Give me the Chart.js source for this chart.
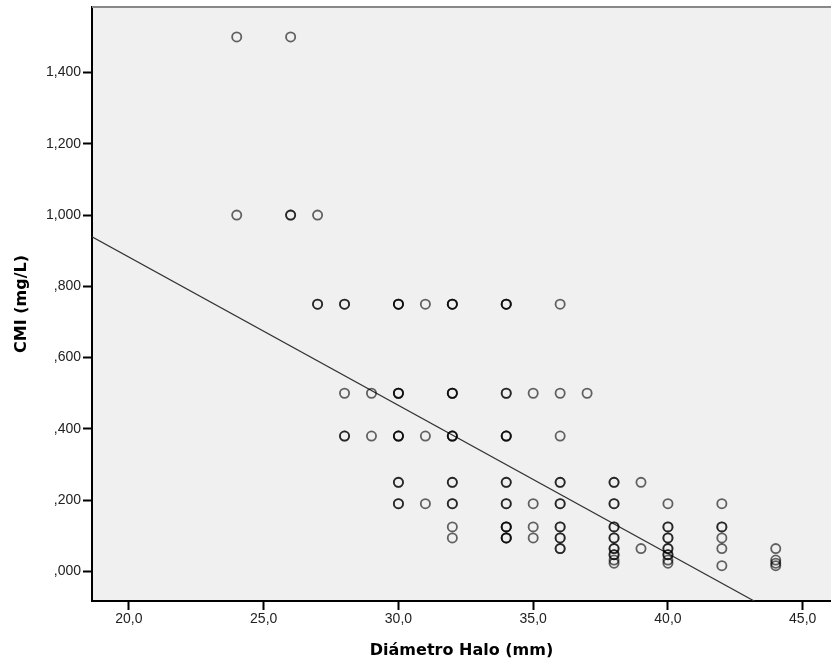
<!DOCTYPE html>
<html>
<head>
<meta charset="utf-8">
<script src="https://cdn.jsdelivr.net/npm/chart.js@4"></script>
<style>
  html, body { margin: 0; padding: 0; background: #fff; }
  #wrap { width: 831px; height: 666px; }
</style>
</head>
<body>
<div id="wrap"><canvas id="chart"></canvas></div>
<script>
// halo diameter (mm) and CMI (mg/L), one entry per case; repeated cases overlap
const diametro = [
  24, 24,
  26, 26, 26,
  27, 27, 27,
  28, 28, 28, 28, 28,
  29, 29,
  30, 30, 30, 30, 30, 30, 30, 30, 30, 30, 30, 30, 30,
  31, 31, 31,
  32, 32, 32, 32, 32, 32, 32, 32, 32, 32, 32, 32, 32, 32, 32,
  34, 34, 34, 34, 34, 34, 34, 34, 34, 34, 34, 34, 34, 34, 34, 34, 34, 34,
  35, 35, 35, 35,
  36, 36, 36, 36, 36, 36, 36, 36, 36, 36, 36, 36, 36,
  37,
  38, 38, 38, 38, 38, 38, 38, 38, 38, 38, 38, 38, 38, 38,
  39, 39,
  40, 40, 40, 40, 40, 40, 40, 40, 40, 40, 40,
  42, 42, 42, 42, 42, 42,
  44, 44, 44, 44
];
const cmi = [
  1.5, 1.0,
  1.5, 1.0, 1.0,
  1.0, 0.75, 0.75,
  0.75, 0.75, 0.5, 0.38, 0.38,
  0.5, 0.38,
  0.75, 0.75, 0.75, 0.5, 0.5, 0.5, 0.38, 0.38, 0.38, 0.25, 0.25, 0.19, 0.19,
  0.75, 0.38, 0.19,
  0.75, 0.75, 0.75, 0.5, 0.5, 0.5, 0.38, 0.38, 0.38, 0.25, 0.25, 0.19, 0.19, 0.125, 0.094,
  0.75, 0.75, 0.75, 0.5, 0.5, 0.38, 0.38, 0.38, 0.25, 0.25, 0.19, 0.19, 0.125, 0.125, 0.125, 0.094, 0.094, 0.094,
  0.5, 0.19, 0.125, 0.094,
  0.75, 0.5, 0.38, 0.25, 0.25, 0.19, 0.19, 0.125, 0.125, 0.094, 0.094, 0.064, 0.064,
  0.5,
  0.25, 0.25, 0.19, 0.19, 0.125, 0.125, 0.094, 0.094, 0.064, 0.064, 0.047, 0.047, 0.032, 0.023,
  0.25, 0.064,
  0.19, 0.125, 0.125, 0.094, 0.094, 0.064, 0.064, 0.047, 0.047, 0.032, 0.023,
  0.19, 0.125, 0.125, 0.094, 0.064, 0.016,
  0.064, 0.032, 0.023, 0.016
];

const xTicks = [20, 25, 30, 35, 40, 45];
const yTicks = [0, 0.2, 0.4, 0.6, 0.8, 1.0, 1.2, 1.4];
const xRange = [18.63, 46.05];
const yRange = [-0.083, 1.584];

// linear fit line
const fitIntercept = 1.714;
const fitSlope = -0.0416;

const puntos = diametro.map((d, i) => ({ x: d, y: cmi[i] }));
const ajuste = xRange.map(x => ({ x: x, y: fitIntercept + fitSlope * x }));

const plotFrame = {
  id: 'plotFrame',
  beforeDraw(chart) {
    const { ctx, chartArea: a } = chart;
    ctx.save();
    ctx.fillStyle = '#f0f0f0';
    ctx.fillRect(a.left, a.top, a.right - a.left, a.bottom - a.top);
    ctx.restore();
  },
  afterDraw(chart) {
    const { ctx, chartArea: a } = chart;
    ctx.save();
    ctx.strokeStyle = '#888';
    ctx.lineWidth = 2;
    ctx.beginPath();
    ctx.moveTo(a.left, a.top);
    ctx.lineTo(a.right, a.top);
    ctx.stroke();
    ctx.restore();
  }
};

const tickFont = { family: 'Liberation Sans', size: 14 };
const titleFont = { family: 'DejaVu Sans', size: 16, weight: 'bold' };

new Chart(document.getElementById('chart'), {
  type: 'scatter',
  data: {
    datasets: [
      {
        data: puntos,
        pointStyle: 'circle',
        pointRadius: 4.6,
        pointBorderWidth: 1.8,
        pointBackgroundColor: 'rgba(0,0,0,0)',
        pointBorderColor: 'rgba(0,0,0,0.6)'
      },
      {
        data: ajuste,
        showLine: true,
        pointRadius: 0,
        borderColor: '#333',
        borderWidth: 1.2
      }
    ]
  },
  options: {
    responsive: true,
    maintainAspectRatio: false,
    animation: false,
    layout: { autoPadding: false, padding: { top: 7, right: 0, bottom: 0, left: 0 } },
    plugins: { legend: { display: false }, tooltip: { enabled: false } },
    scales: {
      x: {
        type: 'linear',
        min: xRange[0],
        max: xRange[1],
        afterBuildTicks: s => { s.ticks = xTicks.map(v => ({ value: v })); },
        afterFit: s => { s.height = 65; s.paddingLeft = 0; s.paddingRight = 0; },
        ticks: {
          callback: v => v.toFixed(1).replace('.', ','),
          font: tickFont,
          color: '#222',
          padding: 1,
          maxRotation: 0,
          autoSkip: false
        },
        grid: { drawOnChartArea: false, tickLength: 9, tickWidth: 2, tickColor: '#000' },
        border: { color: '#000', width: 2 },
        title: {
          display: true,
          text: 'Diámetro Halo (mm)',
          font: titleFont,
          color: '#000',
          padding: { top: 0, bottom: 6 }
        }
      },
      y: {
        type: 'linear',
        min: yRange[0],
        max: yRange[1],
        afterBuildTicks: s => { s.ticks = yTicks.map(v => ({ value: v })); },
        afterFit: s => { s.width = 92; s.paddingTop = 0; s.paddingBottom = 0; },
        ticks: {
          callback: v => {
            const t = v.toFixed(3).replace('.', ',');
            return t.startsWith('0') ? t.slice(1) : t;
          },
          font: tickFont,
          color: '#222',
          padding: 2,
          autoSkip: false
        },
        grid: { drawOnChartArea: false, tickLength: 9, tickWidth: 2, tickColor: '#000' },
        border: { color: '#000', width: 2 },
        title: {
          display: true,
          text: 'CMI (mg/L)',
          font: titleFont,
          color: '#000',
          padding: { top: 12, bottom: 0 }
        }
      }
    }
  },
  plugins: [plotFrame]
});
</script>
</body>
</html>
